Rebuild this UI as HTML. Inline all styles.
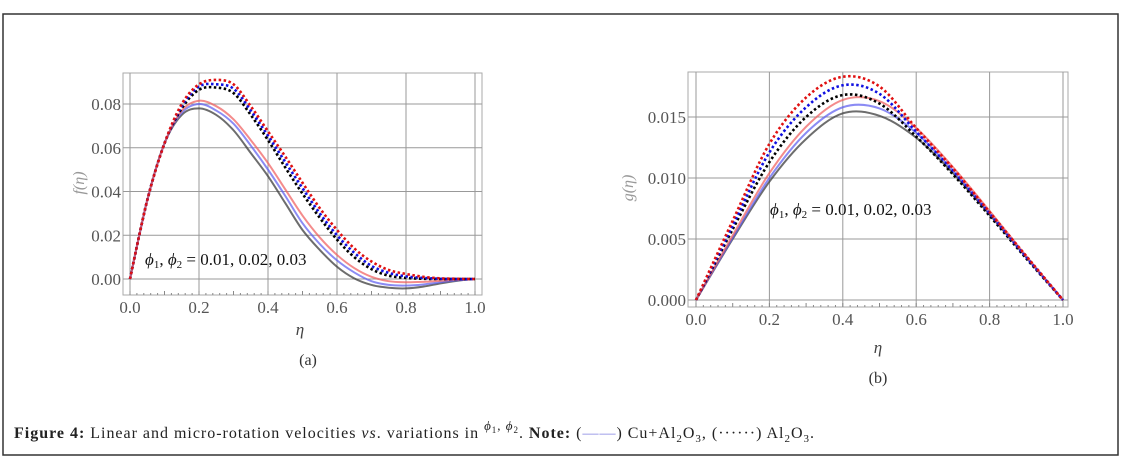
<!DOCTYPE html>
<html><head><meta charset="utf-8"><style>
body{margin:0;background:#fff;}
svg{display:block;font-family:"Liberation Serif",serif;}
</style></head><body>
<svg id="c" width="1123" height="468">
<rect x="3" y="14" width="1115" height="441" fill="none" stroke="#333" stroke-width="1.5"/>
<g id="pa"></g>
<g id="pb"></g>
<text x="14" y="438" font-size="16" fill="#222" textLength="800" lengthAdjust="spacing"><tspan font-weight="bold">Figure 4:</tspan> Linear and micro-rotation velocities <tspan font-style="italic">vs</tspan>. variations in <tspan font-style="italic" font-size="13" dy="-8">ϕ</tspan><tspan font-size="9" dy="3">1</tspan><tspan font-size="13" dy="-3">, </tspan><tspan font-style="italic" font-size="13">ϕ</tspan><tspan font-size="9" dy="3">2</tspan><tspan dy="5">. </tspan><tspan font-weight="bold">Note:</tspan> (<tspan fill="#8080e0">——</tspan>) Cu+Al<tspan font-size="11" dy="4">2</tspan><tspan dy="-4">O</tspan><tspan font-size="11" dy="4">3</tspan><tspan dy="-4">, (······) Al</tspan><tspan font-size="11" dy="4">2</tspan><tspan dy="-4">O</tspan><tspan font-size="11" dy="4">3</tspan><tspan dy="-4">.</tspan></text>
</svg>
<script>
const NS="http://www.w3.org/2000/svg";
const xsA=[0,0.05,0.1,0.15,0.2,0.25,0.3,0.35,0.4,0.45,0.5,0.55,0.6,0.65,0.7,0.75,0.8,0.85,0.9,0.95,1];
const fBlackSolid=[0,0.036,0.062,0.075,0.078,0.075,0.068,0.0576,0.047,0.0347,0.0224,0.0133,0.0056,0.0003,-0.0027,-0.004,-0.0043,-0.0035,-0.002,-0.0008,0];
const fBlueSolid=[0,0.036,0.062,0.076,0.080,0.077,0.071,0.061,0.050,0.038,0.0255,0.016,0.0085,0.003,-0.001,-0.0027,-0.003,-0.0025,-0.0015,-0.0006,0];
const fRedSolid=[0,0.036,0.062,0.077,0.0815,0.079,0.073,0.0635,0.053,0.041,0.029,0.019,0.011,0.005,0.001,-0.001,-0.0015,-0.0013,-0.0008,-0.0003,0];
const fBlackDot=[0,0.036,0.062,0.078,0.0865,0.0875,0.085,0.075,0.0635,0.051,0.039,0.028,0.018,0.010,0.0045,0.0015,0.0005,0.0001,0,0,0];
const fBlueDot=[0,0.036,0.062,0.079,0.088,0.089,0.087,0.077,0.0655,0.0535,0.0415,0.030,0.020,0.012,0.006,0.0028,0.0012,0.0005,0.0001,0,0];
const fRedDot=[0,0.036,0.062,0.080,0.089,0.091,0.089,0.079,0.0675,0.056,0.044,0.0324,0.0224,0.014,0.008,0.0041,0.0023,0.001,0.0003,0.0001,0];
const xsB=[0,0.1,0.2,0.3,0.4,0.5,0.6,0.7,0.8,0.9,1];
const gBlackSolid=[0,0.0050,0.0097,0.0132,0.0153,0.0151,0.0133,0.0104,0.0070,0.0035,0];
const gBlueSolid=[0,0.0051,0.0100,0.0137,0.0158,0.0157,0.0137,0.0106,0.0071,0.0035,0];
const gRedSolid=[0,0.0053,0.0104,0.0142,0.0164,0.0163,0.0141,0.0109,0.0073,0.0036,0];
const gBlackDot=[0,0.0058,0.0113,0.0150,0.0168,0.0161,0.0134,0.0103,0.0069,0.0034,0];
const gBlueDot=[0,0.0061,0.0121,0.0158,0.0176,0.0169,0.0138,0.0106,0.0071,0.0035,0];
const gRedDot=[0,0.0065,0.0128,0.0166,0.0183,0.0175,0.0141,0.0108,0.0072,0.0036,0];
const xTicks=[0,0.2,0.4,0.6,0.8,1.0];
const xTickLabels=["0.0","0.2","0.4","0.6","0.8","1.0"];
const yTicksA=[0,0.02,0.04,0.06,0.08];
const yTickLabelsA=["0.00","0.02","0.04","0.06","0.08"];
const yTicksB=[0,0.005,0.010,0.015];
const yTickLabelsB=["0.000","0.005","0.010","0.015"];

function el(tag,attrs,parent){const e=document.createElementNS(NS,tag);for(const k in attrs)e.setAttribute(k,attrs[k]);parent.appendChild(e);return e;}
function path(pts){let d="M"+pts[0][0]+","+pts[0][1];for(let i=0;i<pts.length-1;i++){const p0=pts[i-1]||pts[i],p1=pts[i],p2=pts[i+1],p3=pts[i+2]||p2;
d+=" C"+(p1[0]+(p2[0]-p0[0])/6)+","+(p1[1]+(p2[1]-p0[1])/6)+" "+(p2[0]-(p3[0]-p1[0])/6)+","+(p2[1]-(p3[1]-p1[1])/6)+" "+p2[0]+","+p2[1];}return d;}
function panel(g,cfg){
 const X=v=>cfg.x0+(cfg.x1-cfg.x0)*v, Y=v=>cfg.y0+(cfg.y1-cfg.y0)*(v/cfg.yv1);
 const r=el("rect",{x:cfg.fl,y:cfg.ft,width:cfg.fr-cfg.fl,height:cfg.fb-cfg.ft,fill:"none",stroke:"#aaa","stroke-width":1},g);
 
 xTicks.forEach((t,i)=>{const l=el("line",{x1:X(t),x2:X(t),y1:cfg.ft,y2:cfg.fb,stroke:"#999","stroke-width":1},g);
  
  const tx=el("text",{x:X(t),y:cfg.fb+18,"font-size":17,fill:"#555","text-anchor":"middle"},g);tx.textContent=xTickLabels[i];
  });
 for(let k=0;k<=50;k++){const xv=k/50;el("line",{x1:X(xv),x2:X(xv),y1:cfg.fb,y2:cfg.fb-(k%5?2:4),stroke:"#888"},g);}
 cfg.yt.forEach((t,i)=>{const l=el("line",{x1:cfg.fl,x2:cfg.fr,y1:Y(t),y2:Y(t),stroke:"#999","stroke-width":1},g);
  
  const tx=el("text",{x:cfg.fl-2,y:Y(t)+6,"font-size":17,fill:"#555","text-anchor":"end"},g);tx.textContent=cfg.yl[i];
  });
 const series=[[cfg.s[0],"rgba(60,60,60,0.75)",null],[cfg.s[1],"rgba(90,90,240,0.7)",null],[cfg.s[2],"rgba(240,90,90,0.7)",null],
  [cfg.s[3],"#000","2.5 2.5"],[cfg.s[4],"#1010e0","2.5 2.5"],[cfg.s[5],"#e01010","2.5 2.5"]];
 const names=["black-solid","blue-solid","red-solid","black-dotted","blue-dotted","red-dotted"];
 series.forEach((s,i)=>{const p=el("path",{d:path(cfg.xs.map((x,j)=>[X(x),Y(s[0][j])])),fill:"none",stroke:s[1],"stroke-width":s[2]?2.6:2},g);
  if(s[2])p.setAttribute("stroke-dasharray",s[2]);
  });
 const yl=el("text",{x:0,y:0,"font-size":16,fill:"#999","font-style":"italic",transform:"translate("+cfg.ylx+","+cfg.yly+") rotate(-90)","text-anchor":"middle"},g);
 yl.textContent=cfg.ylab;
 const xl=el("text",{x:cfg.xlx,y:cfg.xly,"font-size":17,fill:"#444","font-style":"italic","text-anchor":"middle"},g);
 xl.textContent="η";
 const pl=el("text",{x:cfg.xlx+cfg.pdx,y:cfg.xly+30,"font-size":16,fill:"#333","text-anchor":"middle"},g);
 pl.textContent=cfg.plab;
 const lg=el("text",{x:cfg.lx,y:cfg.ly,"font-size":17,fill:"#111"},g);
 lg.innerHTML='<tspan font-style="italic">ϕ</tspan><tspan font-size="11" dy="3">1</tspan><tspan dy="-3">, </tspan><tspan font-style="italic">ϕ</tspan><tspan font-size="11" dy="3">2</tspan><tspan dy="-3"> = 0.01, 0.02, 0.03</tspan>';
 
}
panel(document.getElementById("pa"),{x0:130,x1:475,y0:279,y1:104,yv1:0.08,fl:123,fr:482,ft:73,fb:295,xs:xsA,
 s:[fBlackSolid,fBlueSolid,fRedSolid,fBlackDot,fBlueDot,fRedDot],yt:yTicksA,yl:yTickLabelsA,ylab:"f(η)",ylx:84,yly:183,xlx:300,xly:335,pdx:8,plab:"(a)",lx:145,ly:265});
panel(document.getElementById("pb"),{x0:696,x1:1063,y0:300,y1:117,yv1:0.015,fl:688,fr:1068,ft:72,fb:307,xs:xsB,
 s:[gBlackSolid,gBlueSolid,gRedSolid,gBlackDot,gBlueDot,gRedDot],yt:yTicksB,yl:yTickLabelsB,ylab:"g(η)",ylx:633,yly:188,xlx:878,xly:353,pdx:0,plab:"(b)",lx:770,ly:215});
</script>
</body></html>
